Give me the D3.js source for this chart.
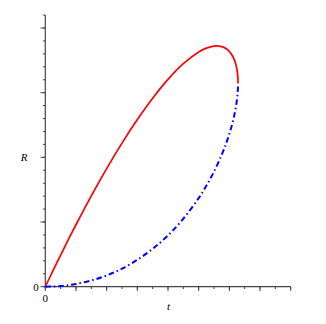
<!DOCTYPE html>
<html><head><meta charset="utf-8">
<script src="https://cdn.jsdelivr.net/npm/d3@7/dist/d3.min.js"></script>
<style>body{margin:0;background:#fff}svg{display:block}</style>
</head><body>
<script>
// Values (t, R)
const tVals  = [0, 0.25, 0.5, 0.75, 1, 1.5, 2, 2.5, 3, 3.5, 4, 4.5, 5, 5.25, 5.5, 5.75, 5.9, 6.0, 6.1, 6.17, 6.22, 6.25, 6.27, 6.28, 6.282, 6.2832];
const redR   = [0, 0.247, 0.490, 0.727, 0.958, 1.404, 1.826, 2.220, 2.584, 2.915, 3.206, 3.449, 3.630, 3.689, 3.721, 3.712, 3.679, 3.637, 3.571, 3.499, 3.422, 3.352, 3.279, 3.211, 3.184, 3.1416];
const blueR  = [0, 0.003, 0.010, 0.023, 0.042, 0.096, 0.174, 0.280, 0.416, 0.585, 0.794, 1.051, 1.370, 1.561, 1.779, 2.038, 2.221, 2.363, 2.529, 2.671, 2.798, 2.898, 2.991, 3.069, 3.097, 3.1416];
const xTicksMajor = [0,1,2,3,4,5,6,7,8];
const yTicksMajor = [0,1,2,3,4];

const W = 326, H = 324;
const svg = d3.select("body").append("svg").attr("width", W).attr("height", H);
const x = d3.scaleLinear().domain([0, 8]).range([45.3, 290.7]);
const y = d3.scaleLinear().domain([0, 4]).range([286.7, 28]);
const axisColor = "#444";

// y axis
svg.append("line").attr("x1", x(0)).attr("x2", x(0)).attr("y1", y(0)).attr("y2", y(4.2))
  .attr("stroke", axisColor).attr("stroke-width", 1.2);
const yMinor = d3.range(0, 4.21, 0.2);
svg.selectAll(".ytm").data(yMinor).enter().append("line")
  .attr("x1", x(0) - 2.3).attr("x2", x(0)).attr("y1", d => y(d)).attr("y2", d => y(d))
  .attr("stroke", axisColor).attr("stroke-width", 1);
svg.selectAll(".ytM").data(yTicksMajor).enter().append("line")
  .attr("x1", x(0) - 4.8).attr("x2", x(0)).attr("y1", d => y(d)).attr("y2", d => y(d))
  .attr("stroke", axisColor).attr("stroke-width", 1);

// x axis
svg.append("line").attr("x1", x(0)).attr("x2", x(8)).attr("y1", y(0)).attr("y2", y(0))
  .attr("stroke", axisColor).attr("stroke-width", 1.2);
const xMinor = d3.range(0, 8.01, 0.5);
svg.selectAll(".xtm").data(xMinor).enter().append("line")
  .attr("x1", d => x(d)).attr("x2", d => x(d)).attr("y1", y(0)).attr("y2", y(0) + 2.3)
  .attr("stroke", axisColor).attr("stroke-width", 1);
svg.selectAll(".xtM").data(xTicksMajor).enter().append("line")
  .attr("x1", d => x(d)).attr("x2", d => x(d)).attr("y1", y(0)).attr("y2", y(0) + 4.3)
  .attr("stroke", axisColor).attr("stroke-width", 1);

// labels
const font = "Liberation Serif, Times New Roman, serif";
svg.append("text").attr("x", 36).attr("y", y(0) + 4).attr("text-anchor", "middle")
  .attr("font-family", font).attr("font-size", 11).text("0");
svg.append("text").attr("x", x(0)).attr("y", 302).attr("text-anchor", "middle")
  .attr("font-family", font).attr("font-size", 11).text("0");
svg.append("text").attr("x", 24).attr("y", 161).attr("text-anchor", "middle")
  .attr("font-family", font).attr("font-size", 11).attr("font-style", "italic").text("R");
svg.append("text").attr("x", 168.5).attr("y", 310).attr("text-anchor", "middle")
  .attr("font-family", font).attr("font-size", 11).attr("font-style", "italic").text("t");

// curves
const line = d3.line().x(d => x(d[0])).y(d => y(d[1])).curve(d3.curveCatmullRom.alpha(0.5));
svg.append("path").datum(tVals.map((t, i) => [t, redR[i]]))
  .attr("d", line).attr("fill", "none").attr("stroke", "#ff0000").attr("stroke-width", 1.7);
svg.append("path").datum(tVals.map((t, i) => [t, blueR[i]]))
  .attr("d", line).attr("fill", "none").attr("stroke", "#0000ff").attr("stroke-width", 2)
  .attr("stroke-dasharray", "5.5,3,1.5,3");
</script>
</body></html>
